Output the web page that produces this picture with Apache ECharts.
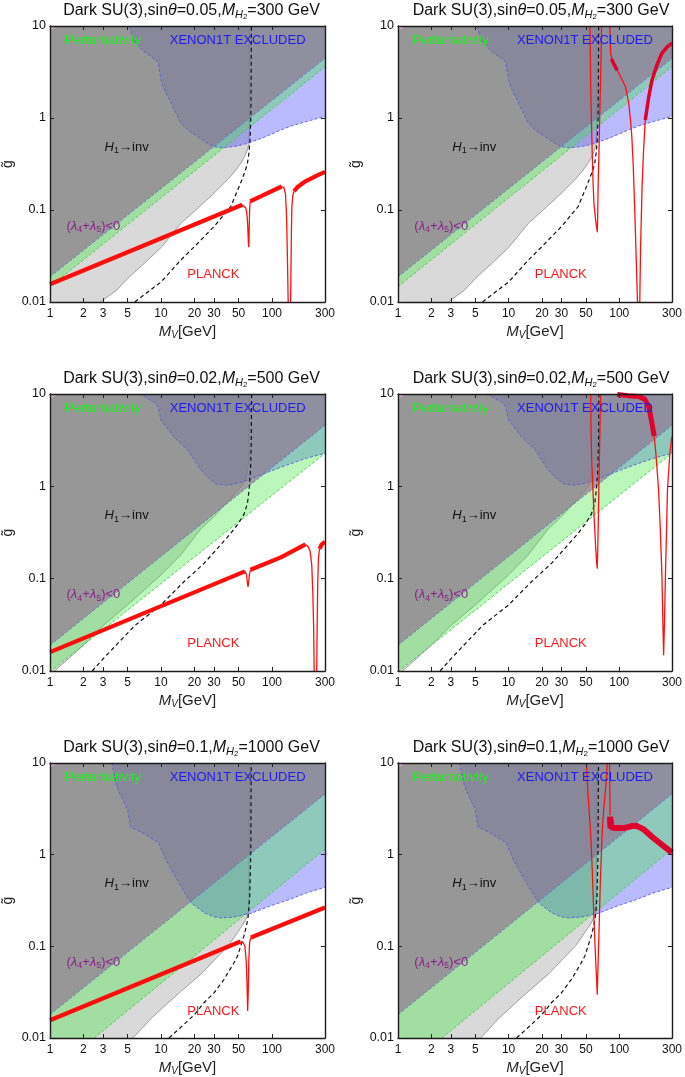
<!DOCTYPE html>
<html><head><meta charset="utf-8">
<script src="https://cdn.jsdelivr.net/npm/echarts@6/dist/echarts.min.js"></script>
<style>html,body{margin:0;padding:0;background:#fff}#c{width:685px;height:1077px}</style>
</head><body><div id="c"></div>
<script>
// ---------- data ----------
const xTicks = [1, 2, 3, 5, 10, 20, 30, 50, 100, 300];
const yTicks = [0.01, 0.1, 1, 10];
const sinTheta = ['0.05', '0.02', '0.1'];
const massH2 = ['300', '500', '1000'];
const regionLabels = ['Perturbativity', 'XENON1T EXCLUDED', 'H1→inv', '(λ4+λ5)<0', 'PLANCK'];

// row 1 : sinθ=0.05, MH2=300
const r1Diag = [[1, 0.0188], [300, 4.46]];
const r1Pert = [[1, 0.0147], [300, 3.6]];
const r1Xenon = [[5.23,10],[5.6,7.05],[7,5.3],[9.4,4.1],[10,2.6],[10.4,2.2],[13.2,1.22],[15.1,0.875],[17.4,0.74],[21.4,0.627],[25,0.55],[30,0.488],[35,0.475],[42.5,0.485],[50,0.5],[60,0.53],[65,0.55],[80,0.6],[100,0.67],[120,0.74],[150,0.82],[200,0.91],[300,1.04]];
const r1HCurve = [[2.85,0.01],[4,0.0135],[5,0.018],[7,0.026],[10,0.039],[15.1,0.0716],[20,0.097],[30,0.152],[40,0.215],[47,0.27],[53,0.33],[57,0.39],[60,0.45],[62,0.53],[62.5,0.7],[62.5,10]];
const r1Black = [[5.8,0.01],[10,0.0165],[15.1,0.0286],[20,0.04],[30,0.066],[42.5,0.109],[52,0.195],[57,0.26],[60,0.32],[62,0.42],[63.5,0.6],[64.3,1],[64.8,2],[65.2,10]];

// row 2 : sinθ=0.02, MH2=500
const r2Diag = [[1, 0.019], [300, 4.6]];
const r2Pert = [[1, 0.0098], [300, 2.28]];
const r2Xenon = [[6.4,10],[8.5,8.25],[9.4,7.3],[10,5.2],[11.5,4.2],[13,3.45],[17.4,2.47],[22.9,1.5],[27,1.22],[32,1.05],[40,1.03],[48.7,1.08],[58,1.15],[66,1.22],[100,1.48],[136,1.7],[200,2.0],[300,2.28]];
const r2HCurve = [[1.1,0.01],[2,0.019],[3,0.031],[5,0.052],[10,0.11],[15,0.18],[23,0.35],[30,0.47],[42.5,0.74],[50,0.92],[55.8,1.1],[60,1.4],[62,2],[62.5,10]];
const r2Black = [[2.4,0.01],[3,0.0135],[5.8,0.031],[10,0.052],[16,0.092],[24.5,0.147],[33,0.22],[42.5,0.31],[50,0.4],[56,0.5],[60,0.65],[62,0.89],[64,1.5],[65,3],[65.5,10]];

// row 3 : sinθ=0.1, MH2=1000
const r3Diag = [[1, 0.018], [300, 4.6]];
const r3Pert = [[2.5, 0.01], [300, 1.15]];
const r3Xenon = [[3.6,10],[4,5.5],[5,3.1],[5.3,2.0],[7,1.7],[9.5,1.35],[10.8,0.93],[12.3,0.7],[14.1,0.52],[16,0.4],[18.6,0.3],[24.5,0.232],[30,0.21],[35,0.204],[45,0.208],[55,0.22],[65,0.23],[100,0.28],[150,0.33],[200,0.38],[300,0.44]];
const r3HCurve = [[5.6,0.01],[8,0.016],[11.5,0.024],[15,0.032],[23,0.05],[30,0.07],[40,0.1],[48.8,0.141],[55,0.175],[60,0.213],[62,0.26],[62.5,10]];
const r3Black = [[11.8,0.01],[15,0.013],[20,0.018],[24.5,0.0244],[30,0.031],[37,0.0437],[45,0.065],[48.8,0.078],[55.8,0.129],[59,0.17],[61,0.213],[63,0.35],[64.3,1],[65,10]];

const cornerPurple = [[1,10],[1.18,10],[1,8.8]];

// PLANCK curves (thick = wide band, thin = narrow resonance)
const p1RedThick = [[[1,0.0156],[54,0.114]], [[63.5,0.124],[90,0.152],[122,0.18]], [[158,0.16],[170,0.178],[200,0.205],[250,0.235],[300,0.26]]];
const p1RedThin = [[[54,0.114],[56,0.112],[58,0.105],[59.5,0.09],[60.5,0.065],[61.2,0.045],[61.6,0.04],[62,0.045],[62.4,0.07],[62.8,0.1],[63.5,0.124]],
  [[122,0.18],[128,0.175],[132,0.15],[135,0.09],[137,0.04],[139,0.015],[141,0.005]],
  [[146,0.005],[148,0.02],[149.5,0.06],[151,0.11],[154,0.145],[158,0.16]]];

const p2RedThick = [[[85,4.4],[90,3.8],[96,3.3]], [[172,0.95],[185,1.7],[198,2.6],[220,3.8],[243,5.05],[270,5.9],[300,6.5]]];
const p2RedThin = [[[54.4,10],[54.8,5],[55.2,2.2],[56,1],[57,0.41],[58,0.2],[59.1,0.118],[61,0.08],[62.4,0.066],[63.3,0.058],[63.8,0.08],[64.1,0.118],[64.8,0.25],[65.6,0.41],[66.5,0.95],[67.5,2],[68.5,4.5],[69.3,10]],
  [[82.3,10],[82.8,7],[83.7,5],[86.6,4.3],[90,3.8],[98.6,3.1],[106,2.6],[114,2.19],[122,1.44],[127,0.9],[130,0.63],[134,0.3],[139,0.08],[143,0.025],[147,0.008]],
  [[153,0.008],[156,0.04],[161,0.18],[166,0.45],[172,0.95]]];

const p3RedThick = [[[1,0.016],[57,0.12]], [[64,0.125],[120,0.17],[200,0.235]], [[268,0.21],[280,0.235],[300,0.25]]];
const p3RedThin = [[[57,0.12],[59,0.11],[60,0.09],[60.8,0.082],[61.5,0.09],[62.5,0.11],[64,0.125]],
  [[200,0.235],[210,0.225],[220,0.2],[228,0.14],[233,0.07],[237,0.03],[240,0.008]],
  [[252,0.008],[255,0.03],[258,0.09],[262,0.17],[268,0.21]]];

const p4RedThick = [[[96,9.9],[120,9.6],[150,9.4],[170,8.8],[185,7.3],[198,4.8],[207,3.5]]];
const p4RedThin = [[[55.2,10],[55.6,4],[56.3,2],[57,1.38],[59.1,0.51],[61.2,0.22],[62.5,0.15],[63.3,0.13],[63.9,0.2],[64.7,0.4],[65.6,1.17],[66.6,3],[67.9,10]],
  [[207,3.5],[215,2.2],[227,0.91],[235,0.35],[243,0.114],[248,0.035],[252,0.015],[256,0.03],[262,0.114],[268,0.35],[273,0.9],[279,1.38],[288,2.4],[299,3.45],[300,3.5]]];

const p5RedThick = [[[1,0.0156],[52,0.113]], [[64.5,0.125],[300,0.265]]];
const p5RedThin = [[[52,0.113],[55,0.11],[57,0.1],[58.5,0.07],[59.5,0.04],[60.3,0.02],[61,0.03],[61.8,0.07],[62.8,0.11],[64.5,0.125]]];

const p6RedThick = [[[82.7,2.6],[83.5,1.95]], [[82.7,2.5],[85,2.0],[92,1.95],[110,1.95],[130,2.05],[145,2.05],[165,1.9],[200,1.55],[240,1.3],[300,1.05]]];
const p6RedThin = [[[50.5,10],[52,5],[53.5,3],[55.2,1.7],[57,0.7],[59.1,0.2],[61,0.08],[63.3,0.03],[64.5,0.07],[65.6,0.14],[67.5,0.5],[70.2,1.8],[73,3.5],[76,6],[78,10]],
  [[81.7,10],[82.2,5],[82.7,2.7]]];

// ---------- layout / style ----------
const labelAnchors = [[3.0,6.9],[49,6.9],[4.9,0.48],[2.46,0.067],[29.6,0.0197]];
const grids = [
  {left:48, top:26, width:277, height:276},
  {left:398, top:26, width:276, height:276},
  {left:48, top:394, width:277, height:277},
  {left:398, top:394, width:276, height:277},
  {left:48, top:763, width:277, height:276},
  {left:398, top:763, width:276, height:276}
];
const FONT = "'Liberation Sans', Arial, sans-serif";
const rows = [
  {diag:r1Diag, pert:r1Pert, xenon:r1Xenon, h:r1HCurve, black:r1Black},
  {diag:r2Diag, pert:r2Pert, xenon:r2Xenon, h:r2HCurve, black:r2Black},
  {diag:r3Diag, pert:r3Pert, xenon:r3Xenon, h:r3HCurve, black:r3Black}
];
const reds = [
  {thick:p1RedThick, thin:p1RedThin, tw:4.2},
  {thick:p2RedThick, thin:p2RedThin, tw:3.5},
  {thick:p3RedThick, thin:p3RedThin, tw:4.2},
  {thick:p4RedThick, thin:p4RedThin, tw:5},
  {thick:p5RedThick, thin:p5RedThin, tw:4.2},
  {thick:p6RedThick, thin:p6RedThin, tw:6}
];
const labelColors = ['#1ff01f', '#1c1cf0', '#111111', '#8a1f8a', '#ff1a1a'];
const labelText = ['Perturbativity', 'XENON1T EXCLUDED', '{i|H}{s|1}→inv', '({i|λ}{s|4}+{i|λ}{s|5})<0', 'PLANCK'];

const fmt = v => String(+(+v).toPrecision(3));

function poly(i, pts, color, z) {
  return {type:'custom', xAxisIndex:2*i, yAxisIndex:2*i, z:z, silent:true, clip:true, animation:false,
    data: pts,
    renderItem: function(params, api) {
      if (params.dataIndex !== 0) return null;
      return {type:'polygon', shape:{points: pts.map(p => api.coord(p))}, style:{fill:color}};
    }};
}
function line(i, pts, color, width, type, z) {
  return {type:'line', xAxisIndex:2*i, yAxisIndex:2*i, data:pts, symbol:'none', showSymbol:false,
    silent:true, animation:false, z:z, clip:true,
    lineStyle:{color:color, width:width, type:type, cap:'butt', join:'round'}};
}

const xAxes = [], yAxes = [], series = [], titles = [];
grids.forEach((g, i) => {
  const row = rows[Math.floor(i/2)];
  const r = Math.floor(i/2);
  xAxes.push({gridIndex:i, type:'log', logBase:10, min:1, max:300, z:20,
    axisLine:{show:true, onZero:false, lineStyle:{color:'#1a1a1a', width:1.4}},
    axisTick:{show:true, inside:true, length:4, customValues:xTicks, lineStyle:{color:'#222'}},
    axisLabel:{show:true, customValues:xTicks, formatter:fmt, fontSize:12, color:'#111', fontFamily:FONT, margin:6},
    splitLine:{show:false}, minorTick:{show:false},
    name:'{i|M}{s|V}[GeV]', nameLocation:'middle', nameGap:21,
    nameTextStyle:{fontSize:15, color:'#222', fontFamily:FONT,
      rich:{i:{fontStyle:'italic', fontSize:15, fontFamily:FONT, color:'#222'}, s:{fontSize:10, fontStyle:'italic', fontFamily:FONT, color:'#222', padding:[7,0,0,0]}}}
  });
  xAxes.push({gridIndex:i, type:'log', logBase:10, min:1, max:300, position:'top', z:20,
    axisLine:{show:true, onZero:false, lineStyle:{color:'#1a1a1a', width:1.4}},
    axisTick:{show:true, inside:true, length:4, customValues:xTicks, lineStyle:{color:'#222'}},
    axisLabel:{show:false}, splitLine:{show:false}});
  yAxes.push({gridIndex:i, type:'log', logBase:10, min:0.01, max:10, z:20,
    axisLine:{show:true, onZero:false, lineStyle:{color:'#1a1a1a', width:1.4}},
    axisTick:{show:true, inside:true, length:4, customValues:yTicks, lineStyle:{color:'#222'}},
    axisLabel:{show:true, customValues:yTicks, formatter:fmt, fontSize:12.5, color:'#111', fontFamily:FONT, margin:4},
    splitLine:{show:false}, minorTick:{show:false},
    name:'g\u0303', nameLocation:'middle', nameGap:35, nameRotate:90,
    nameTextStyle:{fontSize:14, color:'#222', fontFamily:FONT}
  });
  yAxes.push({gridIndex:i, type:'log', logBase:10, min:0.01, max:10, position:'right', z:20,
    axisLine:{show:true, onZero:false, lineStyle:{color:'#1a1a1a', width:1.4}},
    axisTick:{show:true, inside:true, length:4, customValues:yTicks, lineStyle:{color:'#222'}},
    axisLabel:{show:false}, splitLine:{show:false}});

  titles.push({text:'Dark SU(3),sin{i|θ}=' + sinTheta[r] + ',{i|M}{s|H}{ss|2}=' + massH2[r] + ' GeV',
    left: g.left + g.width/2, textAlign:'center', top: g.top - 30,
    textStyle:{fontSize:16, fontWeight:'normal', color:'#111', fontFamily:FONT,
      rich:{i:{fontStyle:'italic', fontSize:16, fontFamily:FONT, color:'#111'},
            s:{fontStyle:'italic', fontSize:11, fontFamily:FONT, color:'#111', padding:[7,0,0,0]},
            ss:{fontSize:8, fontFamily:FONT, color:'#111', padding:[12,0,0,0]}}}});

  series.push(poly(i, [[1,0.01]].concat(row.h, [[1,10]]), 'rgba(128,128,128,0.30)', 1));
  series.push(line(i, row.h, 'rgba(150,150,150,0.9)', 1, 'solid', 1));
  series.push(poly(i, row.xenon.concat([[300,10]]), 'rgba(40,40,255,0.32)', 2));
  let band = row.diag.concat(row.pert.slice().reverse());
  if (row.pert[0][0] > 1) band.push([1, 0.01]);
  series.push(poly(i, band, 'rgba(60,230,60,0.35)', 3));
  series.push(poly(i, row.diag.concat([[300,10],[1,10]]), 'rgba(128,128,128,0.75)', 4));
  series.push(poly(i, cornerPurple, 'rgb(215,160,215)', 4));
  series.push(line(i, row.pert, '#3fcf3f', 0.9, [3,2], 5));
  series.push(line(i, row.diag, '#5a78c8', 0.9, [3,2], 5));
  series.push(line(i, row.xenon, '#5a5ae0', 0.9, [3,2], 5));
  series.push(line(i, row.black, '#111', 1.2, [4,3], 6));
  reds[i].thin.forEach(seg => series.push(line(i, seg, '#ff1010', 1.3, 'solid', 7)));
  reds[i].thick.forEach(seg => series.push(line(i, seg, (i%2 ? '#e0002c' : '#ff0d0d'), reds[i].tw, 'solid', 7)));
  series.push({type:'scatter', xAxisIndex:2*i, yAxisIndex:2*i, symbolSize:0, silent:true, animation:false, z:8,
    itemStyle:{opacity:1},
    data: labelAnchors.map((p, k) => ({value:p, name:regionLabels[k],
      label:{show:true, position:'inside', formatter:labelText[k], fontSize:13, color:labelColors[k], fontFamily:FONT, opacity:1,
        textBorderWidth:0,
        rich:{i:{fontStyle:'italic', fontSize:13, color:labelColors[k], fontFamily:FONT},
              s:{fontSize:9, color:labelColors[k], fontFamily:FONT, padding:[7,0,0,0]}}}}))});
});

const chart = echarts.init(document.getElementById('c'), null, {width:685, height:1077});
chart.setOption({animation:false, backgroundColor:'#fff', title:titles, grid:grids, xAxis:xAxes, yAxis:yAxes, series:series});
</script></body></html>
